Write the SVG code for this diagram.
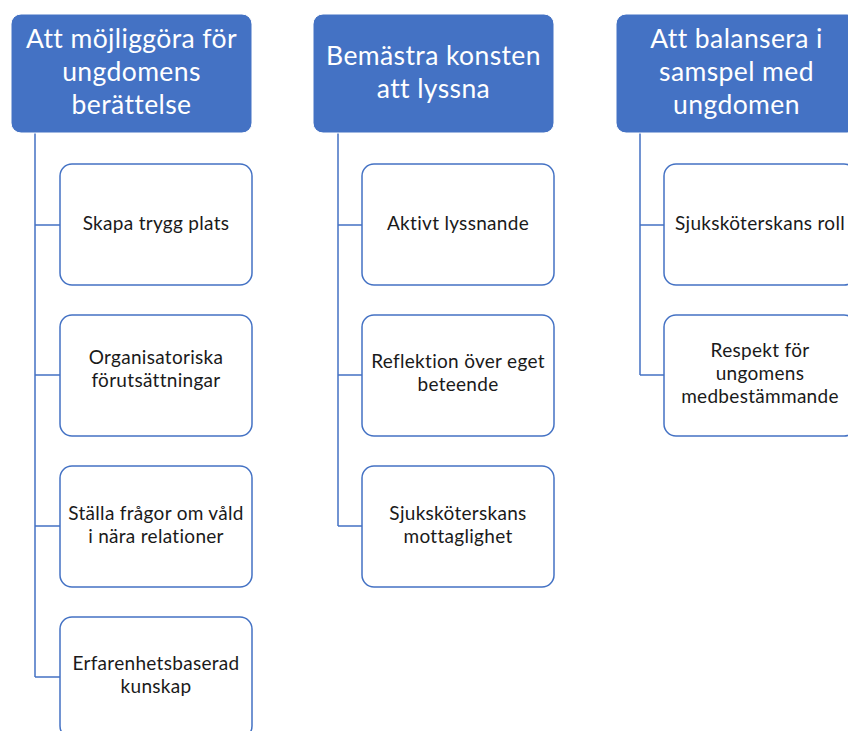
<svg xmlns="http://www.w3.org/2000/svg" width="848" height="731" viewBox="0 0 848 731">
<style>
.hdr{fill:#4472C4;stroke:#fff;stroke-width:1}
.box{fill:#fff;stroke:#4472C4;stroke-width:1.5}
.ht{fill:#fff;font-family:Lato,"Liberation Sans",sans-serif;font-size:26.5px;letter-spacing:0.4px;text-anchor:middle}
.ct{fill:#1a1a1a;font-family:Lato,"Liberation Sans",sans-serif;font-size:19px;letter-spacing:0.3px;text-anchor:middle}
.con{fill:none;stroke:#4472C4;stroke-width:1.5}
</style>
<rect width="848" height="731" fill="#fff"/>
<g id="connectors">
<path class="con" d="M35 132V677M35 225H60M35 375H60M35 526H60M35 677H60"/>
<path class="con" d="M338 132V526M338 225H362M338 375H362M338 526H362"/>
<path class="con" d="M640 132V375M640 225H664M640 375H664"/>
</g>
<g id="h1"><rect class="hdr" x="11" y="14" width="241" height="119" rx="10"/>
<text class="ht"><tspan x="131.5" y="48">Att möjliggöra för</tspan><tspan x="131.5" y="81">ungdomens</tspan><tspan x="131.5" y="114">berättelse</tspan></text></g>
<g id="h2"><rect class="hdr" x="313" y="14" width="241" height="119" rx="10"/>
<text class="ht"><tspan x="433.5" y="65">Bemästra konsten</tspan><tspan x="433.5" y="98">att lyssna</tspan></text></g>
<g id="h3"><rect class="hdr" x="616" y="14" width="241" height="119" rx="10"/>
<text class="ht"><tspan x="736.5" y="48">Att balansera i</tspan><tspan x="736.5" y="81">samspel med</tspan><tspan x="736.5" y="114">ungdomen</tspan></text></g>
<g id="c1a"><rect class="box" x="60" y="164" width="192" height="121" rx="12"/>
<text class="ct" x="156" y="230">Skapa trygg plats</text></g>
<g id="c1b"><rect class="box" x="60" y="315" width="192" height="121" rx="12"/>
<text class="ct"><tspan x="156" y="364">Organisatoriska</tspan><tspan x="156" y="387">förutsättningar</tspan></text></g>
<g id="c1c"><rect class="box" x="60" y="466" width="192" height="121" rx="12"/>
<text class="ct"><tspan x="156" y="520">Ställa frågor om våld</tspan><tspan x="156" y="543">i nära relationer</tspan></text></g>
<g id="c1d"><rect class="box" x="60" y="617" width="192" height="121" rx="12"/>
<text class="ct"><tspan x="156" y="670">Erfarenhetsbaserad</tspan><tspan x="156" y="693">kunskap</tspan></text></g>
<g id="c2a"><rect class="box" x="362" y="164" width="192" height="121" rx="12"/>
<text class="ct" x="458" y="230">Aktivt lyssnande</text></g>
<g id="c2b"><rect class="box" x="362" y="315" width="192" height="121" rx="12"/>
<text class="ct"><tspan x="458" y="368">Reflektion över eget</tspan><tspan x="458" y="391">beteende</tspan></text></g>
<g id="c2c"><rect class="box" x="362" y="466" width="192" height="121" rx="12"/>
<text class="ct"><tspan x="458" y="520">Sjuksköterskans</tspan><tspan x="458" y="543">mottaglighet</tspan></text></g>
<g id="c3a"><rect class="box" x="664" y="164" width="192" height="121" rx="12"/>
<text class="ct" x="760" y="230">Sjuksköterskans roll</text></g>
<g id="c3b"><rect class="box" x="664" y="315" width="192" height="121" rx="12"/>
<text class="ct"><tspan x="760" y="357">Respekt för</tspan><tspan x="760" y="380">ungomens</tspan><tspan x="760" y="403">medbestämmande</tspan></text></g>
</svg>
